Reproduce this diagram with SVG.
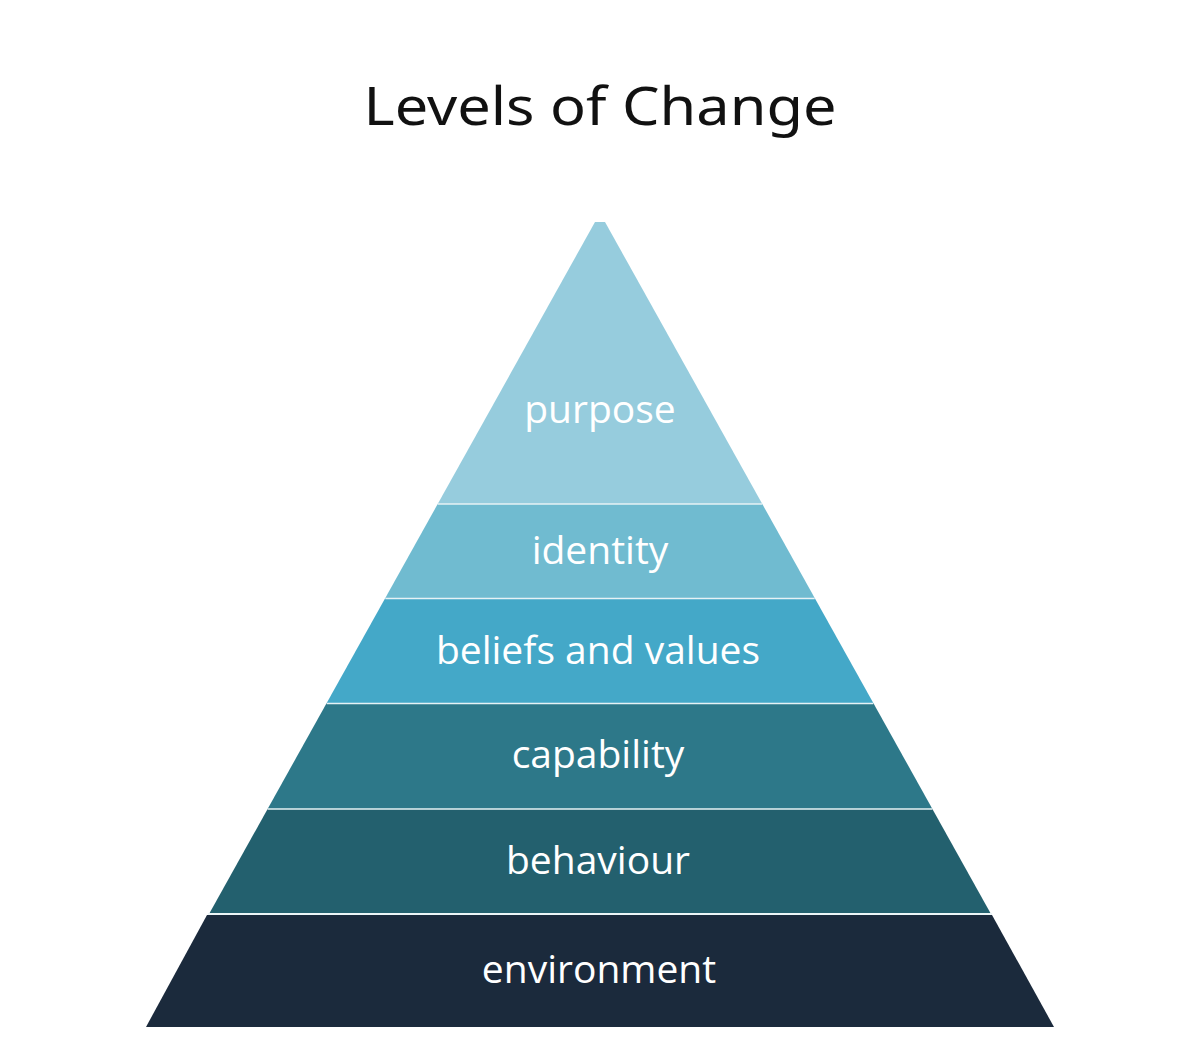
<svg xmlns="http://www.w3.org/2000/svg" width="1200" height="1062" viewBox="0 0 1200 1062">
<style>
.lbl{font-family:"Open Sans","Noto Sans","DejaVu Sans",sans-serif;font-size:39px;fill:#ffffff;text-anchor:middle}
.title{font-family:"Noto Sans","Open Sans",sans-serif;font-size:52px;fill:#111111;text-anchor:middle}
.sep{stroke:#e6f2f5;stroke-width:1.5}
</style>
<rect width="1200" height="1062" fill="#ffffff"/>
<text class="title" x="600" y="125" textLength="473" lengthAdjust="spacingAndGlyphs">Levels of Change</text>
<g id="purpose">
<polygon points="595,222 605,222 762.3,504 437.7,504" fill="#96CCDD"/>
<text class="lbl" x="600" y="423">purpose</text>
</g>
<g id="identity">
<polygon points="437.7,504 762.3,504 814.7,598 385.3,598" fill="#70BBD0"/>
<text class="lbl" x="600" y="564">identity</text>
</g>
<g id="beliefs">
<polygon points="385.3,598 814.7,598 873.3,703 326.7,703" fill="#44A8C8"/>
<text class="lbl" x="598" y="664">beliefs and values</text>
</g>
<g id="capability">
<polygon points="326.7,703 873.3,703 932.4,809 267.6,809" fill="#2D7889"/>
<text class="lbl" x="598" y="768">capability</text>
</g>
<g id="behaviour">
<polygon points="267.6,809 932.4,809 990.4,913 209.6,913" fill="#23606E"/>
<text class="lbl" x="598" y="874">behaviour</text>
</g>
<g id="environment">
<polygon points="207,915 992,915 1054,1027 146,1027" fill="#1B2A3C"/>
<text class="lbl" x="599" y="983">environment</text>
</g>
<g id="connectors">
<line class="sep" x1="437.7" y1="504" x2="762.3" y2="504"/>
<line class="sep" x1="385.3" y1="598.5" x2="814.7" y2="598.5"/>
<line class="sep" x1="326.7" y1="703.5" x2="873.3" y2="703.5"/>
<line class="sep" x1="267.6" y1="809" x2="932.4" y2="809"/>
<line class="sep" x1="208" y1="914" x2="992" y2="914"/>
</g>
</svg>
